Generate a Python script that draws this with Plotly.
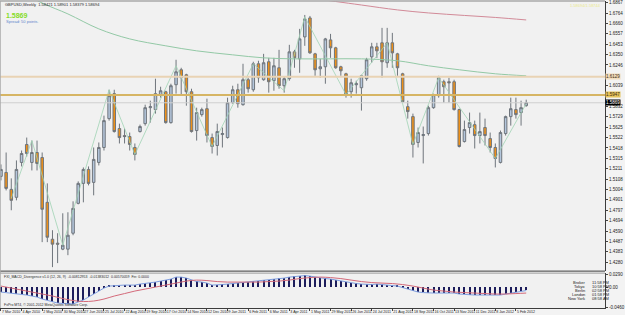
import plotly.graph_objects as go

# ---------------- data (GBPUSD weekly) ----------------
bar_index = list(range(103))

opens = [1.5135, 1.5174, 1.5005, 1.4926, 1.5274, 1.5453, 1.5274, 1.5373, 1.5323, 1.4876,
         1.4508, 1.4469, 1.4409, 1.4409, 1.4568, 1.4866, 1.5065, 1.5204, 1.5075, 1.5274,
         1.5423, 1.5711, 1.5960, 1.5612, 1.5542, 1.5532, 1.5423, 1.5582, 1.5661, 1.5820,
         1.5801, 1.5950, 1.5979, 1.5671, 1.6049, 1.6198, 1.6148, 1.5979, 1.5592, 1.5751,
         1.5810, 1.5522, 1.5443, 1.5552, 1.5522, 1.5870, 1.5999, 1.5850, 1.6099, 1.5999,
         1.6258, 1.6099, 1.6278, 1.6089, 1.6218, 1.6039, 1.6109, 1.6377, 1.6307, 1.6526,
         1.6715, 1.6357, 1.6208, 1.6228, 1.6496, 1.6417, 1.6228, 1.6158, 1.5979, 1.6049,
         1.6019, 1.6109, 1.6327, 1.6427, 1.6467, 1.6268, 1.6467, 1.6357, 1.6158, 1.5830,
         1.5731, 1.5473, 1.5542, 1.5562, 1.5820, 1.5940, 1.6079, 1.6079, 1.6079, 1.5801,
         1.5482, 1.5622, 1.5651, 1.5542, 1.5622, 1.5512, 1.5423, 1.5274, 1.5562, 1.5731,
         1.5801, 1.5771, 1.5840]
highs = [1.5254, 1.5373, 1.5115, 1.5294, 1.5393, 1.5522, 1.5492, 1.5492, 1.5373, 1.5065,
         1.4598, 1.4568, 1.4767, 1.4777, 1.4886, 1.5085, 1.5224, 1.5234, 1.5423, 1.5473,
         1.5741, 1.5999, 1.5999, 1.5661, 1.5612, 1.5572, 1.5463, 1.5651, 1.5850, 1.5890,
         1.6109, 1.6029, 1.5989, 1.6059, 1.6298, 1.6218, 1.6158, 1.6009, 1.5820, 1.5820,
         1.5910, 1.5562, 1.5661, 1.5622, 1.5920, 1.6039, 1.6059, 1.6258, 1.6119, 1.6278,
         1.6288, 1.6357, 1.6317, 1.6317, 1.6397, 1.6129, 1.6447, 1.6397, 1.6606, 1.6745,
         1.6735, 1.6367, 1.6307, 1.6516, 1.6556, 1.6427, 1.6238, 1.6168, 1.6109, 1.6089,
         1.6148, 1.6317, 1.6467, 1.6467, 1.6616, 1.6616, 1.6566, 1.6367, 1.6168, 1.5890,
         1.5761, 1.5622, 1.5632, 1.5840, 1.5960, 1.6138, 1.6099, 1.6119, 1.6099, 1.5810,
         1.5691, 1.5771, 1.5691, 1.5771, 1.5711, 1.5572, 1.5463, 1.5592, 1.5741, 1.5920,
         1.5920, 1.5890, 1.5900]
lows = [1.5095, 1.4995, 1.4797, 1.4896, 1.5234, 1.5333, 1.5194, 1.5194, 1.4479, 1.4479,
        1.4230, 1.4270, 1.4399, 1.4349, 1.4548, 1.4856, 1.4876, 1.5045, 1.4946, 1.5244,
        1.5393, 1.5691, 1.5572, 1.5463, 1.5463, 1.5393, 1.5294, 1.5572, 1.5641, 1.5671,
        1.5761, 1.5920, 1.5661, 1.5661, 1.5960, 1.5950, 1.5840, 1.5572, 1.5492, 1.5731,
        1.5473, 1.5363, 1.5343, 1.5423, 1.5512, 1.5860, 1.5820, 1.5840, 1.5970, 1.5979,
        1.6069, 1.6089, 1.5970, 1.5989, 1.6009, 1.5970, 1.6089, 1.6218, 1.6168, 1.6437,
        1.6357, 1.6138, 1.6119, 1.6059, 1.6317, 1.6208, 1.6138, 1.5920, 1.5920, 1.5960,
        1.5791, 1.6089, 1.6268, 1.6317, 1.6119, 1.6218, 1.6218, 1.6138, 1.5870, 1.5711,
        1.5323, 1.5423, 1.5264, 1.5542, 1.5810, 1.5920, 1.5870, 1.5870, 1.5791, 1.5423,
        1.5473, 1.5562, 1.5413, 1.5463, 1.5443, 1.5373, 1.5224, 1.5264, 1.5542, 1.5641,
        1.5711, 1.5641, 1.5830]
closes = [1.5204, 1.5015, 1.4896, 1.5204, 1.5363, 1.5363, 1.5373, 1.5264, 1.4807, 1.4528,
          1.4459, 1.4459, 1.4449, 1.4548, 1.4816, 1.5065, 1.5204, 1.5065, 1.5304, 1.5423,
          1.5691, 1.5940, 1.5582, 1.5522, 1.5532, 1.5453, 1.5353, 1.5632, 1.5820, 1.5830,
          1.5960, 1.5989, 1.5671, 1.6039, 1.6178, 1.6119, 1.5979, 1.5582, 1.5771, 1.5801,
          1.5542, 1.5433, 1.5582, 1.5562, 1.5870, 1.5999, 1.5860, 1.6099, 1.6009, 1.6258,
          1.6119, 1.6268, 1.6079, 1.6238, 1.6039, 1.6109, 1.6377, 1.6317, 1.6506, 1.6705,
          1.6367, 1.6198, 1.6228, 1.6506, 1.6417, 1.6218, 1.6188, 1.5950, 1.6069, 1.6059,
          1.6138, 1.6298, 1.6427, 1.6387, 1.6278, 1.6467, 1.6367, 1.6218, 1.5880, 1.5781,
          1.5453, 1.5572, 1.5552, 1.5820, 1.5950, 1.6119, 1.6029, 1.6069, 1.5801, 1.5433,
          1.5602, 1.5671, 1.5542, 1.5582, 1.5542, 1.5423, 1.5313, 1.5572, 1.5731, 1.5810,
          1.5751, 1.5820, 1.5870]

# moving averages (read at sample bars)
ma_green_idx = [0, 8, 13, 19, 25, 32, 38, 45, 51, 57, 64, 70, 77, 83, 89, 96, 102]
ma_green_val = [1.7083, 1.6864, 1.6755, 1.6606, 1.6506, 1.6437, 1.6387, 1.6347, 1.6317,
                1.6307, 1.6307, 1.6307, 1.6288, 1.6238, 1.6198, 1.6158, 1.6138]
ma_red_idx = [60, 65, 70, 77, 83, 90, 96, 102]
ma_red_val = [1.6914, 1.6879, 1.6844, 1.6795, 1.6765, 1.6740, 1.6720, 1.6695]

# zigzag vertices
zz_idx = [2, 6, 12, 21, 26, 34, 41, 49, 55, 59, 67, 75, 80, 85, 96, 102]
zz_val = [1.4916, 1.5492, 1.4449, 1.5999, 1.5353, 1.6238, 1.5433, 1.6258, 1.5989, 1.6725,
          1.5950, 1.6467, 1.5453, 1.6119, 1.5313, 1.5860]

# horizontal levels
level_prices = [1.6129, 1.5947]
level_colors = ["#e9d3b4", "#d6b564"]
level_label_bg = ["#f2dcbc", "#e6c35c"]
bid_price = 1.5869

# MACD indicator
macd_vals = [-0.0115, -0.0127, -0.0150, -0.0161, -0.0173, -0.0184, -0.0207, -0.0230, -0.0276, -0.0311,
             -0.0345, -0.0368, -0.0380, -0.0391, -0.0391, -0.0345, -0.0299, -0.0230, -0.0161, -0.0092,
             -0.0023, 0.0023, 0.0035, 0.0035, 0.0046, 0.0046, 0.0046, 0.0069, 0.0081, 0.0092,
             0.0115, 0.0138, 0.0161, 0.0184, 0.0230, 0.0230, 0.0207, 0.0161, 0.0127, 0.0115,
             0.0092, 0.0046, 0.0046, 0.0058, 0.0069, 0.0081, 0.0092, 0.0104, 0.0115, 0.0127,
             0.0138, 0.0161, 0.0161, 0.0184, 0.0196, 0.0207, 0.0230, 0.0242, 0.0253, 0.0265,
             0.0253, 0.0230, 0.0207, 0.0196, 0.0184, 0.0161, 0.0138, 0.0115, 0.0092, 0.0081,
             0.0069, 0.0058, 0.0058, 0.0069, 0.0058, 0.0046, 0.0035, 0.0023, -0.0012, -0.0046,
             -0.0092, -0.0115, -0.0127, -0.0138, -0.0138, -0.0138, -0.0138, -0.0138, -0.0138, -0.0161,
             -0.0173, -0.0184, -0.0184, -0.0184, -0.0184, -0.0184, -0.0196, -0.0184, -0.0161, -0.0138,
             -0.0127, -0.0104, -0.0081]
signal_idx = list(range(0, 103, 2))
signal_vals = [0.0023, -0.0023, -0.0069, -0.0115, -0.0161, -0.0207, -0.0265, -0.0311, -0.0334, -0.0322,
               -0.0276, -0.0207, -0.0150, -0.0092, -0.0046, 0.0000, 0.0046, 0.0092, 0.0138, 0.0161,
               0.0150, 0.0127, 0.0115, 0.0115, 0.0115, 0.0115, 0.0127, 0.0138, 0.0161, 0.0196,
               0.0219, 0.0230, 0.0219, 0.0196, 0.0161, 0.0127, 0.0104, 0.0092, 0.0081, 0.0058,
               0.0023, -0.0023, -0.0069, -0.0092, -0.0115, -0.0127, -0.0138, -0.0150, -0.0161, -0.0161,
               -0.0150, -0.0138]

# axis labels
date_idx = list(range(0, 101, 4))
date_labels = ["7 Mar 2010", "4 Apr 2010", "2 May 2010", "30 May 2010", "27 Jun 2010", "25 Jul 2010",
               "22 Aug 2010", "19 Sep 2010", "17 Oct 2010", "14 Nov 2010", "12 Dec 2010", "9 Jan 2011",
               "6 Feb 2011", "6 Mar 2011", "3 Apr 2011", "1 May 2011", "29 May 2011", "26 Jun 2011",
               "24 Jul 2011", "21 Aug 2011", "18 Sep 2011", "16 Oct 2011", "13 Nov 2011", "11 Dec 2011",
               "8 Jan 2012", "5 Feb 2012"]
# ticks hidden under the level labels are left out
price_ticks = [1.6867, 1.6764, 1.6660, 1.6557, 1.6453, 1.6350, 1.6246, 1.6039,
               1.5832, 1.5729, 1.5625, 1.5522, 1.5418, 1.5315, 1.5211, 1.5108, 1.5004, 1.4901,
               1.4797, 1.4694, 1.4590, 1.4487, 1.4383, 1.4280]
macd_ticks = [0.0290, 0.0, -0.0460]
macd_tick_text = ["0.0290", "0.00", "-0.0460"]

clock_names = ["Broker", "Tokyo", "Berlin", "London", "New York"]
clock_times = ["11:58 PM", "10:58 PM", "02:58 PM", "01:58 PM", "08:58 AM"]

# ---------------- figure ----------------
W, H = 625, 315
ML, MR, MT, MB = 0, 13, 0, 7
PH = H - MT - MB  # plot height in px
main_bottom_px = 271
ind_top_px = 273
main_dom = [1 - main_bottom_px / PH, 1]
ind_dom = [0, 1 - ind_top_px / PH]

def py(px):  # pixel from top of plot area -> paper y
    return 1 - px / PH

def pxx(px):
    return px / (W - ML - MR)

FONT = "Liberation Sans, Arial, sans-serif"
fig = go.Figure()

fig.add_trace(go.Scatter(x=ma_green_idx, y=ma_green_val, mode="lines",
                         line=dict(color="#93c9a6", width=1, shape="spline"),
                         yaxis="y", hoverinfo="skip"))
fig.add_trace(go.Scatter(x=ma_red_idx, y=ma_red_val, mode="lines",
                         line=dict(color="#d28a98", width=1, shape="spline"),
                         yaxis="y", hoverinfo="skip"))
fig.add_trace(go.Scatter(x=zz_idx, y=zz_val, mode="lines",
                         line=dict(color="#9fd3b4", width=0.8),
                         yaxis="y", hoverinfo="skip"))
fig.add_trace(go.Candlestick(
    x=bar_index, open=opens, high=highs, low=lows, close=closes,
    increasing=dict(fillcolor="#b4c6dc", line=dict(color="#6f757c", width=1)),
    decreasing=dict(fillcolor="#ee9018", line=dict(color="#6f757c", width=1)),
    whiskerwidth=0, yaxis="y", showlegend=False))

fig.add_trace(go.Bar(x=bar_index, y=macd_vals, width=0.2, marker=dict(color="#1d1d5c", line=dict(width=0)),
                     yaxis="y2", hoverinfo="skip"))
fig.add_trace(go.Scatter(x=bar_index, y=macd_vals, mode="lines",
                         line=dict(color="#7f9ee0", width=1), yaxis="y2", hoverinfo="skip"))
fig.add_trace(go.Scatter(x=signal_idx, y=signal_vals, mode="lines",
                         line=dict(color="#d46a7a", width=1, shape="spline"), yaxis="y2", hoverinfo="skip"))

shapes = []
for p, c in zip(level_prices, level_colors):
    shapes.append(dict(type="line", xref="paper", yref="y", x0=0, x1=1, y0=p, y1=p,
                       line=dict(color=c, width=2)))
shapes.append(dict(type="line", xref="paper", yref="y", x0=0, x1=1, y0=bid_price, y1=bid_price,
                   line=dict(color="#d0d0d0", width=1)))
# pane separators / borders
shapes.append(dict(type="line", xref="paper", yref="paper", x0=0, x1=1, y0=main_dom[0], y1=main_dom[0],
                   line=dict(color="#3c3c3c", width=1)))
shapes.append(dict(type="line", xref="paper", yref="paper", x0=0, x1=1, y0=ind_dom[1], y1=ind_dom[1],
                   line=dict(color="#9a9a9a", width=1)))
shapes.append(dict(type="line", xref="paper", yref="paper", x0=0, x1=1, y0=1, y1=1,
                   line=dict(color="#a8a8a8", width=1.5)))
shapes.append(dict(type="line", xref="paper", yref="paper", x0=0, x1=0, y0=0, y1=1,
                   line=dict(color="#a8a8a8", width=1.5)))

ann = []
ann.append(dict(xref="paper", yref="paper", x=pxx(3), y=py(4), xanchor="left", yanchor="middle",
                text="GBPUSD,Weekly  1.58421 1.58901 1.58379 1.58694", showarrow=False,
                font=dict(family=FONT, size=4, color="#1e1e1e")))
ann.append(dict(xref="paper", yref="paper", x=pxx(4), y=py(14.5), xanchor="left", yanchor="middle",
                text="<b>1.5869</b>", showarrow=False, font=dict(family=FONT, size=7, color="#86dc28")))
ann.append(dict(xref="paper", yref="paper", x=pxx(4), y=py(20.5), xanchor="left", yanchor="middle",
                text="Spread: 50 points.", showarrow=False, font=dict(family=FONT, size=4, color="#5d86cc")))
ann.append(dict(xref="paper", yref="paper", x=pxx(610), y=py(5), xanchor="right", yanchor="middle",
                text="1.58694/1.58744", showarrow=False, font=dict(family=FONT, size=4, color="#ecea8c")))
ann.append(dict(xref="paper", yref="paper", x=pxx(2), y=py(276.5), xanchor="left", yanchor="middle",
                text="FXI_MACD_Divergence v1.0 (12, 26, 9)  -0.00812953  -0.01383012  0.00570059  Fin: 0.0000",
                showarrow=False, font=dict(family=FONT, size=3.5, color="#2a2a2a")))
ann.append(dict(xref="paper", yref="paper", x=pxx(2), y=py(304.5), xanchor="left", yanchor="middle",
                text="FxPro MT4, © 2001-2012 MetaQuotes Software Corp.",
                showarrow=False, font=dict(family=FONT, size=3.5, color="#2a2a2a")))
for k, (nm, tm) in enumerate(zip(clock_names, clock_times)):
    yy = py(282 + 4.2 * k)
    ann.append(dict(xref="paper", yref="paper", x=pxx(594), y=yy, xanchor="right", yanchor="middle",
                    text=nm, showarrow=False, font=dict(family=FONT, size=4, color="#1a1a1a")))
    ann.append(dict(xref="paper", yref="paper", x=pxx(597), y=yy, xanchor="left", yanchor="middle",
                    text=tm, showarrow=False, font=dict(family=FONT, size=4, color="#1a1a1a")))
# right-hand price labels
for p, bg in zip(level_prices, level_label_bg):
    ann.append(dict(xref="paper", yref="y", x=1, y=p, xanchor="left", yanchor="middle",
                    text="%.4f" % p, showarrow=False, bgcolor=bg, borderpad=0,
                    font=dict(family=FONT, size=4.5, color="#3a2a10")))
ann.append(dict(xref="paper", yref="y", x=1, y=bid_price, xanchor="left", yanchor="middle",
                text="%.4f" % bid_price, showarrow=False, bgcolor="#000000", borderpad=0,
                font=dict(family=FONT, size=4.5, color="#ffffff")))

fig.update_layout(
    width=W, height=H, margin=dict(l=ML, r=MR, t=MT, b=MB),
    paper_bgcolor="#f3f3f3", plot_bgcolor="#f1f1f1",
    showlegend=False, bargap=0,
    xaxis=dict(domain=[0, 1], range=[-0.19, 117.3], anchor="y2",
               tickmode="array", tickvals=date_idx, ticktext=date_labels, tickangle=0,
               ticklabelposition="outside right", tickfont=dict(family=FONT, size=3.6, color="#222"),
               ticks="outside", ticklen=2, tickcolor="#444",
               showgrid=False, zeroline=False, showline=True, linecolor="#3c3c3c",
               rangeslider=dict(visible=False), fixedrange=True),
    yaxis=dict(domain=main_dom, range=[1.4190, 1.6884], anchor="x", side="right",
               tickmode="array", tickvals=price_ticks, ticktext=["%.4f" % v for v in price_ticks],
               tickfont=dict(family=FONT, size=4.5, color="#222"),
               ticks="outside", ticklen=2, tickcolor="#444",
               showgrid=False, zeroline=False, showline=True, linecolor="#3c3c3c", fixedrange=True),
    yaxis2=dict(domain=ind_dom, range=[-0.0483, 0.0322], anchor="x", side="right",
                tickmode="array", tickvals=macd_ticks, ticktext=macd_tick_text,
                tickfont=dict(family=FONT, size=4.5, color="#222"),
                ticks="outside", ticklen=2, tickcolor="#444",
                showgrid=False, zeroline=False, showline=True, linecolor="#3c3c3c", fixedrange=True),
    shapes=shapes, annotations=ann,
)

fig.write_html("out.html", config={"displayModeBar": False})
